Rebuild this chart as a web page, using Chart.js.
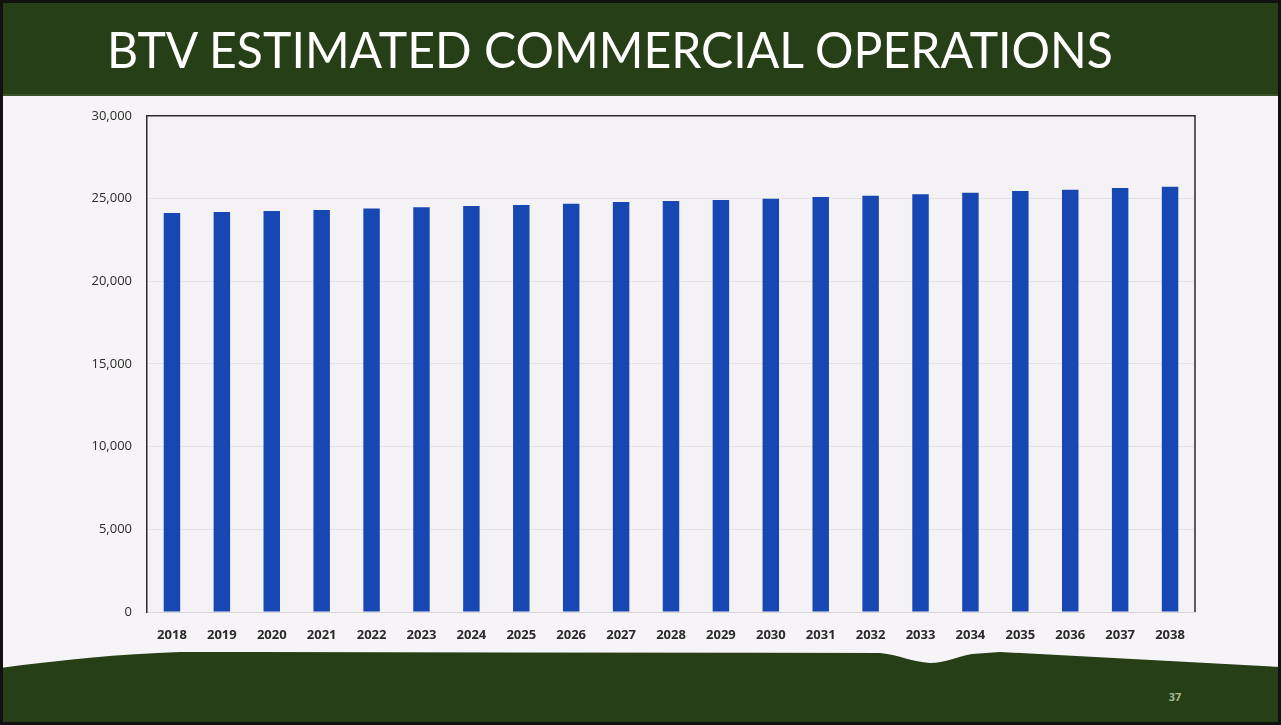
<!DOCTYPE html>
<html>
<head>
<meta charset="utf-8">
<title>BTV Estimated Commercial Operations</title>
<script src="https://cdn.jsdelivr.net/npm/chart.js@4"></script>
<style>
  html, body { margin: 0; padding: 0; background: #f6f4f6; }
  #slide { position: relative; width: 1281px; height: 725px; overflow: hidden; }
  #deco { position: absolute; left: 0; top: 0; }
  #chart { position: absolute; left: 0; top: 93px; }
</style>
</head>
<body>
<div id="slide">
  <svg id="deco" width="1281" height="725" viewBox="0 0 1281 725">
    <rect x="0" y="0" width="1281" height="725" fill="#f6f4f6"/>
    <!-- header band -->
    <rect x="0" y="0" width="1281" height="96" fill="#263f16"/>
    <rect x="0" y="94" width="1281" height="2" fill="#3a5228"/>
    <text x="107" y="68" font-family="Lato, 'Open Sans', sans-serif" font-size="50" fill="#ffffff"
          textLength="1006" lengthAdjust="spacingAndGlyphs">BTV ESTIMATED COMMERCIAL OPERATIONS</text>
    <!-- footer band with wavy top edge -->
    <path d="M0,668 C60,660 120,654 180,652 L880,653 C900,655 912,662 930,663 C945,663 955,657 972,654 L1000,652 L1281,667 L1281,725 L0,725 Z"
          fill="#263f16"/>
    <text x="1175" y="701" text-anchor="middle" font-family="'Open Sans', sans-serif" font-weight="700"
          font-size="11" fill="#aab897">37</text>
    <!-- scan frame -->
    <rect x="1.5" y="1.5" width="1278" height="722" fill="none" stroke="#111" stroke-width="3"/>
  </svg>
  <canvas id="chart" width="1281" height="559"></canvas>
</div>
<script>
const years = ['2018', '2019', '2020', '2021', '2022', '2023', '2024', '2025', '2026', '2027', '2028',
               '2029', '2030', '2031', '2032', '2033', '2034', '2035', '2036', '2037', '2038']
const operations = [24130, 24190, 24250, 24310, 24390, 24470, 24550, 24610, 24690, 24790, 24850,
                    24910, 24990, 25090, 25170, 25250, 25350, 25450, 25530, 25630, 25710]
const Y_MAX  = 30000
const Y_STEP = 5000

const BAR_COLOR   = '#1747b3'
const FRAME_COLOR = '#2b2b2b'
const GRID_COLOR  = '#e4e2e6'
const TICK_COLOR  = '#2a2a2a'

// plot background + top/right frame lines around the chart area
const plotFrame = {
  id: 'plotFrame',
  beforeDraw(chart) {
    const { ctx, chartArea: a } = chart
    ctx.save()
    ctx.fillStyle = '#f4f2f5'
    ctx.fillRect(a.left, a.top, a.right - a.left, a.bottom - a.top)
    ctx.restore()
  },
  afterDraw(chart) {
    const { ctx, chartArea: a } = chart
    ctx.save()
    ctx.strokeStyle = FRAME_COLOR
    ctx.lineWidth = 1.5
    ctx.beginPath()
    ctx.moveTo(a.left, a.top)
    ctx.lineTo(a.right, a.top)
    ctx.lineTo(a.right, a.bottom)
    ctx.stroke()
    ctx.restore()
  },
}

new Chart(document.getElementById('chart').getContext('2d'), {
  type: 'bar',
  data: {
    labels: years,
    datasets: [{
      data: operations,
      backgroundColor: BAR_COLOR,
      borderWidth: 0,
      barPercentage: 0.33,
      categoryPercentage: 1,
    }],
  },
  options: {
    responsive: false,
    animation: false,
    devicePixelRatio: 1,
    layout: { padding: { left: 0, right: 86, top: 8, bottom: 0 } },
    plugins: { legend: { display: false }, tooltip: { enabled: false } },
    scales: {
      x: {
        grid: { display: false, drawTicks: false },
        border: { color: '#d6d4d8', width: 1 },
        ticks: {
          color: TICK_COLOR,
          padding: 15,
          maxRotation: 0,
          font: { family: "'Open Sans', sans-serif", size: 13, weight: '700' },
        },
        afterFit: s => { s.height = 40 },
      },
      y: {
        min: 0,
        max: Y_MAX,
        grid: { color: GRID_COLOR, drawTicks: false },
        border: { color: FRAME_COLOR, width: 1.5 },
        ticks: {
          stepSize: Y_STEP,
          color: TICK_COLOR,
          padding: 15,
          font: { family: "'Open Sans', sans-serif", size: 13 },
          callback: v => v.toLocaleString('en-US'),
        },
        afterFit: s => { s.width = 147 },
      },
    },
  },
  plugins: [plotFrame],
})
</script>
</body>
</html>
